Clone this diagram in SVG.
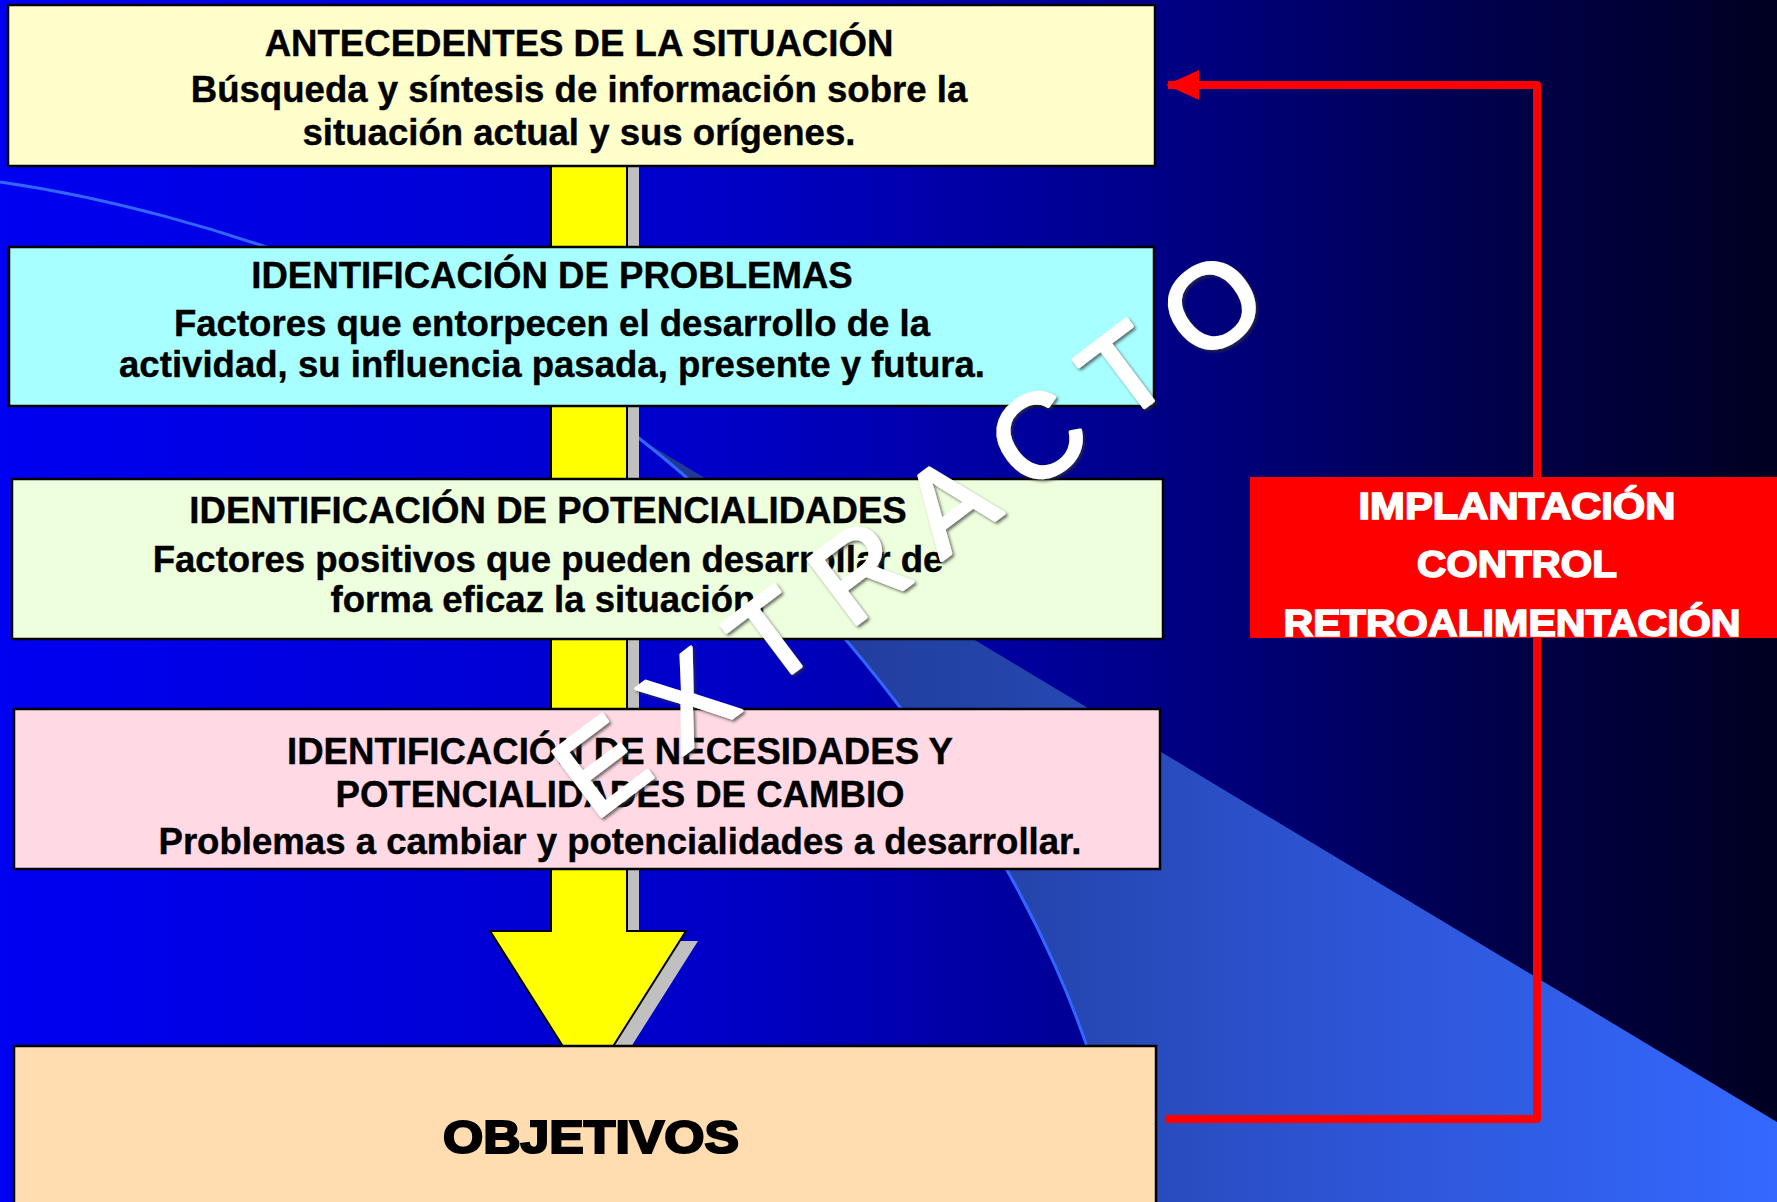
<svg xmlns="http://www.w3.org/2000/svg" width="1777" height="1202" viewBox="0 0 1777 1202">
<style>
.box{stroke:#000;stroke-width:2.5}
.t{font-family:"Liberation Sans",Arial,sans-serif;font-weight:bold;font-size:36.6px;fill:#000;stroke:#000;stroke-width:0.4;text-anchor:middle}
.heavy{font-family:"Liberation Sans",Arial,sans-serif;font-weight:bold;text-anchor:middle}
.wm{font-family:"Liberation Sans",Arial,sans-serif;font-size:118px;fill:#fff;stroke:#fff;stroke-width:3.5;stroke-linejoin:round;letter-spacing:30px}
</style>
<defs>
<linearGradient id="bg" gradientUnits="userSpaceOnUse" x1="0" y1="0" x2="1777" y2="0">
<stop offset="0" stop-color="#0000F2"/>
<stop offset="0.39" stop-color="#0000CA"/>
<stop offset="0.49" stop-color="#0000B4"/>
<stop offset="0.63" stop-color="#00008E"/>
<stop offset="0.82" stop-color="#000050"/>
<stop offset="1" stop-color="#000022"/>
</linearGradient>
<linearGradient id="mid" gradientUnits="userSpaceOnUse" x1="640" y1="0" x2="1777" y2="0">
<stop offset="0" stop-color="#1F3790"/>
<stop offset="0.32" stop-color="#2444AA"/>
<stop offset="0.58" stop-color="#2C52CF"/>
<stop offset="1" stop-color="#3468FF"/>
</linearGradient>
<marker id="redhead" markerUnits="userSpaceOnUse" markerWidth="34" markerHeight="32" viewBox="0 0 34 32" refX="31" refY="16" orient="auto">
<path d="M0,1 L33,16 L0,31 Z" fill="#FF0000"/>
</marker>
<filter id="shadow" x="-10%" y="-10%" width="130%" height="130%">
<feDropShadow dx="2" dy="2" stdDeviation="1.5" flood-color="#333" flood-opacity="0.7"/>
</filter>
</defs>

<g id="background">
<rect x="0" y="0" width="1777" height="1202" fill="url(#bg)"/>
<path d="M640,439 L1777,1122 L1777,1202 L1125,1202 C1080,880 820,580 640,439 Z" fill="url(#mid)"/>
<path d="M0,182 C210,212 480,310 640,439 C820,580 1080,880 1125,1202" fill="none" stroke="#3366FF" stroke-width="3"/>
</g>

<g id="connectors">
<g id="flow-arrow">
<path d="M563,150 V941 H502 L600,1096 L698,941 H639 V150 Z" fill="#C0C0C0"/>
<path d="M551,150 V931 H490 L588,1086 L686,931 H627 V150 Z" fill="#FFFF00" stroke="#000" stroke-width="2"/>
</g>
<path id="feedback" d="M1165,1119 H1537 V85 H1168" fill="none" stroke="#FF0000" stroke-width="8" stroke-linejoin="round" marker-end="url(#redhead)"/>
</g>

<g id="node-antecedentes">
<rect class="box" x="8" y="5" width="1147" height="161" fill="#FFFFCC"/>
<text class="t" x="579" y="56">ANTECEDENTES DE LA SITUACIÓN</text>
<text class="t" x="579" y="102">Búsqueda y síntesis de información sobre la</text>
<text class="t" x="579" y="145">situación actual y sus orígenes.</text>
</g>

<g id="node-problemas">
<rect class="box" x="9" y="247" width="1145" height="159" fill="#A8FFFF"/>
<text class="t" x="552" y="288">IDENTIFICACIÓN DE PROBLEMAS</text>
<text class="t" x="552" y="336">Factores que entorpecen el desarrollo de la</text>
<text class="t" x="552" y="377">actividad, su influencia pasada, presente y futura.</text>
</g>

<g id="node-potencialidades">
<rect class="box" x="12" y="479" width="1151" height="160" fill="#EEFFDD"/>
<text class="t" x="548" y="523">IDENTIFICACIÓN DE POTENCIALIDADES</text>
<text class="t" x="548" y="572">Factores positivos que pueden desarrollar de</text>
<text class="t" x="548" y="612">forma eficaz la situación.</text>
</g>

<g id="node-necesidades">
<rect class="box" x="14" y="709" width="1146" height="160" fill="#FFDAE4"/>
<text class="t" x="620" y="764">IDENTIFICACIÓN DE NECESIDADES Y</text>
<text class="t" x="620" y="807">POTENCIALIDADES DE CAMBIO</text>
<text class="t" x="620" y="854">Problemas a cambiar y potencialidades a desarrollar.</text>
</g>

<g id="node-objetivos">
<rect class="box" x="14" y="1046" width="1142" height="170" fill="#FFDDB0"/>
<text class="heavy" x="591" y="1153" font-size="46" fill="#000" stroke="#000" stroke-width="2.2" textLength="296" lengthAdjust="spacingAndGlyphs">OBJETIVOS</text>
</g>

<g id="node-implantacion">
<rect x="1250" y="477" width="527" height="161" fill="#FF0000"/>
<text class="heavy" x="1517" y="519" font-size="37" fill="#FFFFFF" stroke="#FFFFFF" stroke-width="1.6" textLength="317" lengthAdjust="spacingAndGlyphs">IMPLANTACIÓN</text>
<text class="heavy" x="1517" y="577" font-size="37" fill="#FFFFFF" stroke="#FFFFFF" stroke-width="1.6" textLength="200" lengthAdjust="spacingAndGlyphs">CONTROL</text>
<text class="heavy" x="1512" y="636" font-size="37" fill="#FFFFFF" stroke="#FFFFFF" stroke-width="1.6" textLength="457" lengthAdjust="spacingAndGlyphs">RETROALIMENTACIÓN</text>
</g>

<g id="watermark" filter="url(#shadow)">
<text class="wm" transform="translate(594,822) rotate(-37)">EXTRACTO</text>
</g>
</svg>
